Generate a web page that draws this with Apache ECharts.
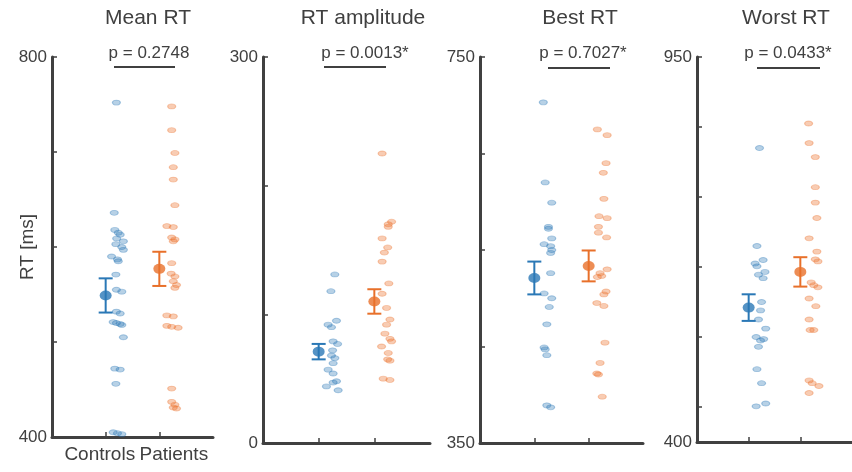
<!DOCTYPE html>
<html>
<head>
<meta charset="utf-8">
<script src="https://cdn.jsdelivr.net/npm/echarts@6/dist/echarts.min.js"></script>
<style>
html,body{margin:0;padding:0;background:#fff;}
#chart{width:852px;height:472px;}
</style>
</head>
<body>
<div id="chart"></div>
<script>
// ---------- data ----------
const categories = ['Controls', 'Patients'];
const titles = ['Mean RT', 'RT amplitude', 'Best RT', 'Worst RT'];
const pLabels = ['p = 0.2748', 'p = 0.0013*', 'p = 0.7027*', 'p = 0.0433*'];
const yMins = [400, 0, 350, 400];
const yMaxs = [800, 300, 750, 950];
const yTickValues = [
  [400, 500, 600, 700, 800],
  [0, 100, 200, 300],
  [350, 450, 550, 650, 750],
  [450, 550, 650, 750, 850, 950]
];
const yAxisName = 'RT [ms]';

// Mean RT
const meanRT_ctrl   = [752,636,618,615,613,609,606,603,600,597,590,587,585,571,555,553,532,530,521,520,519,518,505,472,471,456,405,404,403];
const meanRT_ctrlX  = [1.20,1.16,1.17,1.235,1.27,1.205,1.33,1.19,1.30,1.33,1.11,1.22,1.235,1.19,1.20,1.30,1.20,1.27,1.14,1.20,1.27,1.30,1.33,1.17,1.27,1.19,1.14,1.22,1.30];
const meanRT_pat    = [748,723,699,684,671,644,622,621,610,608,606,583,572,569,564,560,557,528,527,517,516,515,451,437,434,431,430];
const meanRT_patX   = [2.23,2.23,2.29,2.26,2.26,2.29,2.14,2.26,2.23,2.29,2.26,2.23,2.22,2.29,2.26,2.32,2.29,2.14,2.26,2.14,2.23,2.35,2.23,2.23,2.29,2.26,2.32];

// RT amplitude
const ampl_ctrl  = [131,118,95,92,90,79,77,72,68,66,62,57,54,48,47,44,41];
const ampl_ctrlX = [1.29,1.22,1.32,1.17,1.23,1.26,1.34,1.25,1.23,1.29,1.26,1.17,1.26,1.32,1.26,1.14,1.35];
const ampl_pat   = [225,172,170,168,159,152,148,141,124,116,105,96,92,85,81,79,75,70,65,64,50,49];
const ampl_patX  = [2.14,2.31,2.25,2.25,2.14,2.24,2.18,2.14,2.26,2.14,2.22,2.28,2.22,2.19,2.28,2.31,2.13,2.25,2.24,2.28,2.16,2.28];

// Best RT
const best_ctrl  = [703,620,599,574,572,562,556,554,550,547,526,505,500,491,473,449,447,441,389,387];
const best_ctrlX = [1.165,1.20,1.32,1.26,1.26,1.32,1.18,1.30,1.32,1.30,1.30,1.18,1.32,1.275,1.23,1.18,1.20,1.23,1.23,1.30];
const best_pat   = [675,669,640,630,603,585,583,574,568,563,530,526,523,522,507,504,495,492,454,433,422,421,398];
const best_patX  = [2.16,2.34,2.32,2.27,2.28,2.19,2.34,2.18,2.18,2.33,2.34,2.21,2.24,2.16,2.32,2.28,2.15,2.28,2.30,2.21,2.15,2.18,2.25];

// Worst RT
const worst_ctrl  = [820,680,660,655,651,643,639,634,600,588,575,562,550,547,545,536,504,484,455,451];
const worst_ctrlX = [1.21,1.16,1.28,1.125,1.16,1.315,1.19,1.28,1.25,1.23,1.19,1.33,1.145,1.29,1.23,1.19,1.16,1.25,1.33,1.145];
const worst_pat   = [855,827,807,764,742,720,691,672,661,658,628,624,621,605,594,575,560,560,488,484,480,470];
const worst_patX  = [2.16,2.17,2.29,2.29,2.29,2.32,2.17,2.32,2.29,2.34,2.21,2.26,2.34,2.17,2.30,2.17,2.19,2.26,2.17,2.23,2.36,2.17];

// group means and standard errors [Controls, Patients]
const means = [[549, 577], [71, 110], [521, 533.5], [592, 643]];
const sems  = [[18, 18], [6, 9.5], [17, 16], [19, 21]];

const ctrlVals = [meanRT_ctrl, ampl_ctrl, best_ctrl, worst_ctrl];
const ctrlXs   = [meanRT_ctrlX, ampl_ctrlX, best_ctrlX, worst_ctrlX];
const patVals  = [meanRT_pat, ampl_pat, best_pat, worst_pat];
const patXs    = [meanRT_patX, ampl_patX, best_patX, worst_patX];

// ---------- layout / style ----------
const FONT = '"Liberation Sans", Arial, Helvetica, sans-serif';
const AX = '#404040';
const BLUE = '#2a78b6', ORANGE = '#e8702a';
const BLUE_PT = 'rgba(42,120,182,0.42)', BLUE_PT_B = 'rgba(42,120,182,0.45)';
const OR_PT = 'rgba(235,115,45,0.45)', OR_PT_B = 'rgba(235,115,45,0.45)';

const gridsLayout = [
  {left: 52, top: 57, width: 161, height: 380},
  {left: 263, top: 57, width: 167, height: 386},
  {left: 480, top: 57, width: 163, height: 386},
  {left: 697, top: 57, width: 160, height: 385}
];
const titleCenters = [148, 363, 580, 786];
const pCenters = [149, 365, 583, 788];
const barPix = [[114, 175, 67], [324, 386, 67], [548, 610, 68], [757, 820, 68]];

const grid = [], xAxis = [], yAxis = [], series = [], graphic = [];

function errRender(params, api) {
  const x = api.value(0), lo = api.value(1), hi = api.value(2);
  const a = api.coord([x, lo]), b = api.coord([x, hi]);
  const c = api.visual('color');
  const w = 7;
  const st = {stroke: c, lineWidth: 2};
  return {type: 'group', children: [
    {type: 'line', shape: {x1: a[0], y1: a[1], x2: b[0], y2: b[1]}, style: st},
    {type: 'line', shape: {x1: a[0]-w, y1: a[1], x2: a[0]+w, y2: a[1]}, style: st},
    {type: 'line', shape: {x1: b[0]-w, y1: b[1], x2: b[0]+w, y2: b[1]}, style: st}
  ]};
}

for (let i = 0; i < 4; i++) {
  grid.push(Object.assign({containLabel: false}, gridsLayout[i]));
  xAxis.push({
    type: 'value', gridIndex: i, min: 0, max: 3,
    axisLine: {show: true, lineStyle: {color: AX, width: 3}},
    axisTick: {show: true, inside: true, length: 5, customValues: [1, 2], lineStyle: {color: AX, width: 1.5}},
    axisLabel: {
      show: i === 0, customValues: [0.89, 2.27], margin: 8,
      formatter: v => (v < 1.5 ? categories[0] : categories[1]),
      fontFamily: FONT, fontSize: 19, color: AX
    },
    splitLine: {show: false}
  });
  yAxis.push({
    type: 'value', gridIndex: i, min: yMins[i], max: yMaxs[i],
    name: i === 0 ? yAxisName : '', nameLocation: 'middle', nameGap: 15, nameRotate: 90,
    nameMoveOverlap: false,
    nameTextStyle: {fontFamily: FONT, fontSize: 19, color: AX},
    axisLine: {show: true, lineStyle: {color: AX, width: 3}},
    axisTick: {show: true, inside: true, length: 5,
      customValues: yTickValues[i].concat([yMaxs[i]]), lineStyle: {color: AX, width: 1.5}},
    axisLabel: {customValues: [yMins[i], yMaxs[i]], margin: 5, fontFamily: FONT, fontSize: 17, color: AX},
    splitLine: {show: false}
  });
  series.push({
    type: 'scatter', xAxisIndex: i, yAxisIndex: i, symbol: 'circle', symbolSize: [8, 5], z: 2,
    itemStyle: {color: BLUE_PT, borderColor: BLUE_PT_B, borderWidth: 1},
    data: ctrlVals[i].map((v, k) => [ctrlXs[i][k], v])
  });
  series.push({
    type: 'scatter', xAxisIndex: i, yAxisIndex: i, symbol: 'circle', symbolSize: [8, 5], z: 2,
    itemStyle: {color: OR_PT, borderColor: OR_PT_B, borderWidth: 1},
    data: patVals[i].map((v, k) => [patXs[i][k], v])
  });
  series.push({
    type: 'custom', xAxisIndex: i, yAxisIndex: i, z: 4, itemStyle: {color: BLUE},
    renderItem: errRender,
    data: [[1, means[i][0] - sems[i][0], means[i][0] + sems[i][0]]]
  });
  series.push({
    type: 'custom', xAxisIndex: i, yAxisIndex: i, z: 4, itemStyle: {color: ORANGE},
    renderItem: errRender,
    data: [[2, means[i][1] - sems[i][1], means[i][1] + sems[i][1]]]
  });
  series.push({
    type: 'scatter', xAxisIndex: i, yAxisIndex: i, symbol: 'circle', symbolSize: [12, 10], z: 5,
    data: [
      {value: [1, means[i][0]], itemStyle: {color: BLUE}},
      {value: [2, means[i][1]], itemStyle: {color: ORANGE}}
    ]
  });
  graphic.push({
    type: 'text', x: titleCenters[i], y: 18,
    style: {text: titles[i], font: '21px ' + FONT, fill: AX, textAlign: 'center', textVerticalAlign: 'middle', verticalAlign: 'middle'}
  });
  graphic.push({
    type: 'text', x: pCenters[i], y: 53,
    style: {text: pLabels[i], font: '17px ' + FONT, fill: AX, textAlign: 'center', textVerticalAlign: 'middle', verticalAlign: 'middle'}
  });
  graphic.push({
    type: 'line', shape: {x1: barPix[i][0], y1: barPix[i][2], x2: barPix[i][1], y2: barPix[i][2]},
    style: {stroke: AX, lineWidth: 2}
  });
}

const chart = echarts.init(document.getElementById('chart'), null, {renderer: 'canvas'});
chart.setOption({
  animation: false,
  backgroundColor: '#ffffff',
  grid, xAxis, yAxis, series, graphic
});
</script>
</body>
</html>
